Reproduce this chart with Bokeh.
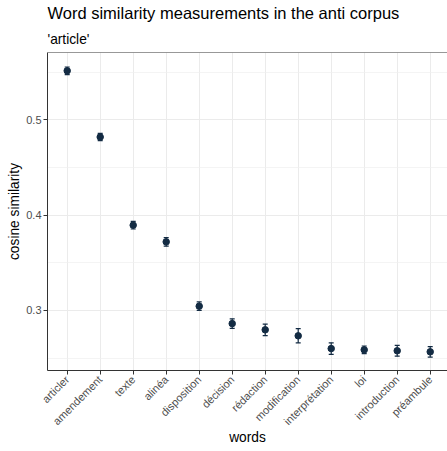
from bokeh.plotting import figure
from bokeh.models import (Range1d, FixedTicker, Whisker, TeeHead, ColumnDataSource,
                          Title, Span)
from bokeh.embed import file_html
from bokeh.resources import INLINE
from math import pi

# ---- data ----
words = ["articler", "amendement", "texte", "alinéa", "disposition", "décision",
         "rédaction", "modification", "interprétation", "loi", "introduction", "préambule"]
similarity = [0.5515, 0.4820, 0.3895, 0.3720, 0.3045, 0.2862, 0.2797, 0.2734,
              0.2600, 0.2587, 0.2577, 0.2566]
half_width = [0.0040, 0.0038, 0.0040, 0.0045, 0.0045, 0.0050, 0.0060, 0.0075,
              0.0060, 0.0040, 0.0057, 0.0055]
y_ticks = [0.3, 0.4, 0.5]
y_minor_ticks = [0.25, 0.35, 0.45, 0.55]

title_text = "Word similarity measurements in the anti corpus"
subtitle_text = "'article'"
x_label = "words"
y_label = "cosine similarity"

FONT = "Liberation Sans"
INK = "#132B43"

xpos = list(range(len(words)))
lower = [s - h for s, h in zip(similarity, half_width)]
upper = [s + h for s, h in zip(similarity, half_width)]
src = ColumnDataSource(dict(x=xpos, word=words, sim=similarity, lower=lower, upper=upper))

p = figure(width=447, height=451, output_backend="svg", toolbar_location=None,
           title=None,
           x_range=Range1d(-0.597, 11.524), y_range=Range1d(0.237, 0.5707),
           min_border_left=47, min_border_right=0, min_border_top=0, min_border_bottom=81)
p.background_fill_color = "white"
p.border_fill_color = "white"
p.outline_line_color = None

# titles (subtitle first: nearest to the frame)
sub = Title(text=subtitle_text, align="left", text_font=FONT, text_font_size="13.75px",
            text_font_style="normal", text_color="black", standoff=12)
p.add_layout(sub, "above")
main = Title(text=title_text, align="left", text_font=FONT, text_font_size="16.5px",
             text_font_style="normal", text_color="black", standoff=3)
p.add_layout(main, "above")

# error bars and points
wh = Whisker(source=src, base="x", lower="lower", upper="upper", dimension="height",
             line_color=INK, line_width=1.2,
             upper_head=TeeHead(size=5, line_color=INK, line_width=1.2),
             lower_head=TeeHead(size=5, line_color=INK, line_width=1.2))
p.add_layout(wh)
p.scatter("x", "sim", source=src, size=6.5, color=INK)

# top border line of the panel
p.add_layout(Span(location=0.5707, dimension="width", line_color="#333333", line_width=1))

# axes
p.xaxis.ticker = FixedTicker(ticks=xpos)
p.xaxis.major_label_overrides = {i: w for i, w in zip(xpos, words)}
p.xaxis.major_label_orientation = pi / 4
p.yaxis.ticker = FixedTicker(ticks=y_ticks, minor_ticks=y_minor_ticks)
p.xaxis.axis_label = x_label
p.yaxis.axis_label = y_label

for ax in (p.xaxis[0], p.yaxis[0]):
    ax.axis_line_color = "#333333"
    ax.axis_line_width = 1
    ax.major_tick_line_color = "#333333"
    ax.major_tick_out = 4
    ax.major_tick_in = 0
    ax.minor_tick_line_color = None
    ax.major_label_text_font = FONT
    ax.major_label_text_font_size = "11px"
    ax.major_label_text_color = "#4D4D4D"
    ax.axis_label_text_font = FONT
    ax.axis_label_text_font_size = "13.75px"
    ax.axis_label_text_font_style = "normal"
    ax.axis_label_text_color = "black"

p.yaxis[0].major_label_standoff = 2
p.yaxis[0].axis_label_standoff = 1
p.xaxis[0].major_label_standoff = 3
p.xaxis[0].axis_label_standoff = -4

p.xgrid.grid_line_color = "#EBEBEB"
p.xgrid.grid_line_width = 1
p.ygrid.grid_line_color = "#EBEBEB"
p.ygrid.grid_line_width = 1
p.ygrid.minor_grid_line_color = "#EFEFEF"
p.ygrid.minor_grid_line_width = 0.7

open("out.html", "w").write(file_html(p, INLINE))
